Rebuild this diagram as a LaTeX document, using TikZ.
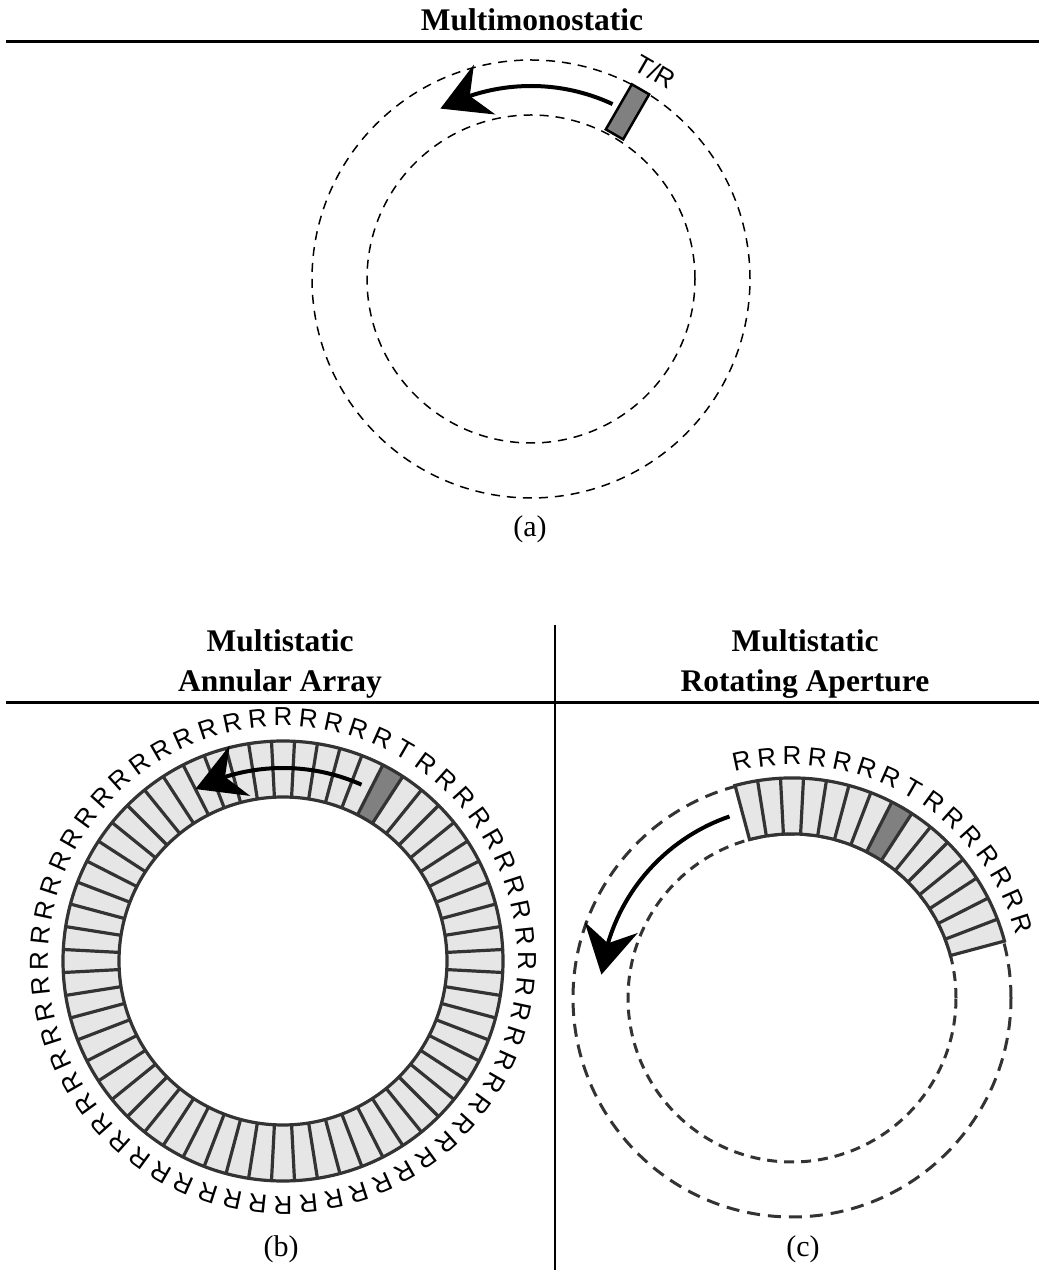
\documentclass[tikz,border=0pt]{standalone}
\usepackage{fontspec}
\setmainfont{Liberation Serif}
\newfontfamily\lsans{Liberation Sans}
\usetikzlibrary{arrows.meta,bending}
\definecolor{ringfill}{HTML}{E6E6E6}
\definecolor{elemdark}{HTML}{808080}
\definecolor{ringline}{HTML}{333333}
\begin{document}
\begin{tikzpicture}[x=1pt,y=1pt,
 title/.style={font=\fontsize{31.5}{37}\selectfont\bfseries, anchor=base, inner sep=0},
 caption/.style={font=\fontsize{30}{36}\selectfont, anchor=base, inner sep=0},
 elabel/.style={font=\fontsize{26}{30}\selectfont\lsans, inner sep=0},
 rule/.style={line width=2.7pt},
 thindash/.style={black, line width=1.5pt, dash pattern=on 9pt off 7pt},
 thickdash/.style={ringline, line width=3pt, dash pattern=on 13pt off 8pt},
 thickdashin/.style={ringline, line width=3pt, dash pattern=on 10pt off 7pt},
 ring/.style={ringline, line width=3.2pt},
 motion/.style={line width=4pt, -{Stealth[length=48pt,width=54pt,inset=16pt]}}
]
\useasboundingbox (0,0) rectangle (1045,1270);

% ---------- panel (a)
\node[title] (ta) at (532,1239) {Multimonostatic};
\coordinate (l1a) at (6,1228.3);
\coordinate (l1b) at (1039,1228.3);
\draw[rule] (l1a) -- (l1b);
\begin{scope}[shift={(531,991)}]
  \draw[thindash] (0,0) circle[radius=219];
  \draw[thindash] (0,0) circle[radius=164];
  \draw[motion] (65:193) arc[start angle=65,end angle=118,radius=193];
  \draw[fill=elemdark, line width=2.5pt, rotate=60] (167,-10) rectangle (219,10);
  \node[elabel, rotate=-30] (tr) at (59:242) {T/R};
\end{scope}
\node[caption] (capa) at (530,733) {(a)};

% ---------- headers lower
\node[title] (tb1) at (280,618) {Multistatic};
\node[title] (tb2) at (280,578.5) {Annular Array};
\node[title] (tc1) at (805,618) {Multistatic};
\node[title] (tc2) at (805,578.5) {Rotating Aperture};
\coordinate (l2a) at (6,567.3);
\coordinate (l2b) at (1039,567.3);
\draw[rule] (l2a) -- (l2b);
\coordinate (v1) at (555,645);
\coordinate (v2) at (555,0);
\draw[rule] (v1) -- (v2);

% ---------- panel (b)
\begin{scope}[shift={(283,309)}]
  \fill[ringfill, even odd rule] (0,0) circle[radius=220] (0,0) circle[radius=164];
  \fill[elemdark] (57:164) -- (57:220) arc[start angle=57,end angle=63,radius=220]
     -- (63:164) arc[start angle=63,end angle=57,radius=164] -- cycle;
  \foreach \a in {3,9,...,357} \draw[ring] (\a:164) -- (\a:220);
  \draw[ring] (0,0) circle[radius=220];
  \draw[ring] (0,0) circle[radius=164];
  \draw[motion] (66:193) arc[start angle=66,end angle=117,radius=193];
  \foreach \a in {0,6,...,354}
    \node[elabel, rotate=\a-90] (rb\a) at (\a:244) {\ifnum\a=60 T\else R\fi};
\end{scope}
\node[caption] (capb) at (281,13) {(b)};

% ---------- panel (c)
\begin{scope}[shift={(792,272)}]
  \draw[thickdash] (0,0) circle[radius=219];
  \draw[thickdashin] (0,0) circle[radius=164];
  \fill[ringfill] (15:164) -- (15:220) arc[start angle=15,end angle=105,radius=220]
     -- (105:164) arc[start angle=105,end angle=15,radius=164] -- cycle;
  \fill[elemdark] (57:164) -- (57:220) arc[start angle=57,end angle=63,radius=220]
     -- (63:164) arc[start angle=63,end angle=57,radius=164] -- cycle;
  \foreach \a in {21,27,...,99} \draw[ring] (\a:164) -- (\a:220);
  \draw[ring] (15:164) -- (15:220) arc[start angle=15,end angle=105,radius=220]
     -- (105:164) arc[start angle=105,end angle=15,radius=164] -- cycle;
  \draw[motion] (109:192) arc[start angle=109,end angle=173,radius=192];
  \foreach \a in {18,24,...,102}
    \node[elabel, rotate=\a-90] (rc\a) at (\a:242) {\ifnum\a=60 T\else R\fi};
\end{scope}
\node[caption] (capc) at (803,13) {(c)};
\end{tikzpicture}
\end{document}
